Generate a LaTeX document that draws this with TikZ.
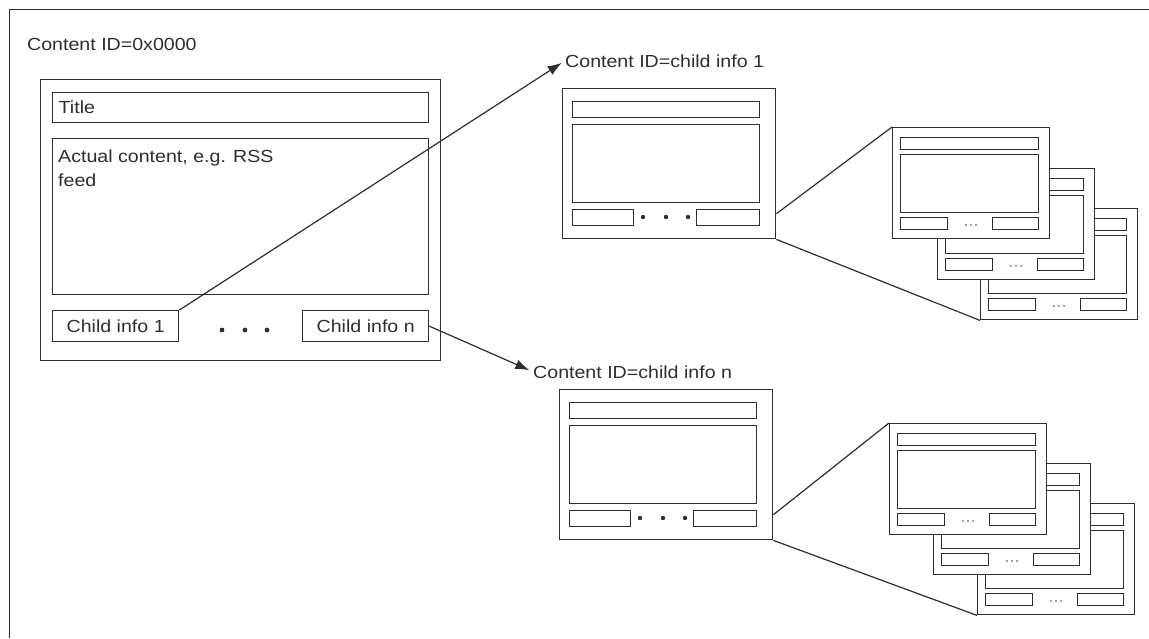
\documentclass[tikz,border=0pt]{standalone}
\usepackage{fontspec}
\setmainfont{Liberation Sans}[FakeStretch=1.12]
\usetikzlibrary{arrows.meta}
\definecolor{ink}{HTML}{2E2E2E}
\tikzset{
  box/.style={draw=ink, line width=1.4pt, anchor=north west, inner sep=0pt},
  lbl/.style={text=ink, inner sep=0pt, font=\fontsize{17.5}{24}\selectfont},
  conn/.style={draw=ink, line width=1.2pt},
  arr/.style={conn, -{Latex[length=14pt,width=10pt]}, shorten >=4pt}
}
\newcommand\childpage[3]{%
  \node[box, minimum width=213pt, minimum height=150pt] (#1) at (#2,#3) {};
  \node[box, minimum width=187pt, minimum height=16pt] (#1-t) at (#2+10,#3+13) {};
  \node[box, minimum width=187pt, minimum height=78pt] (#1-c) at (#2+10,#3+36) {};
  \node[box, minimum width=61pt, minimum height=16pt] (#1-l) at (#2+10,#3+121) {};
  \node[box, minimum width=63pt, minimum height=16pt] (#1-r) at (#2+134,#3+121) {};
  \foreach \d in {81,104,126} \fill[ink] (#2+\d,#3+129) circle[radius=2.2pt];
}
\newcommand\stackcard[3]{%
  \node[box, fill=white, minimum width=157pt, minimum height=111pt] (#1) at (#2,#3) {};
  \node[box, minimum width=138pt, minimum height=12pt] (#1-t) at (#2+8,#3+10) {};
  \node[box, minimum width=138pt, minimum height=58pt] (#1-c) at (#2+8,#3+27) {};
  \node[box, minimum width=47pt, minimum height=12pt] (#1-l) at (#2+8,#3+90) {};
  \node[box, minimum width=46pt, minimum height=12pt] (#1-r) at (#2+100,#3+90) {};
  \foreach \d in {-5,0,5} \fill[gray] (#2+79+\d,#3+98) circle[radius=1.2pt];
}
\begin{document}
\begin{tikzpicture}[x=1pt,y=-1pt]
\useasboundingbox (0,0) rectangle (1149,638);
% outer frame (cropped)
\draw[ink, line width=1.4pt] (9.5,638) -- (9.5,9.5) -- (1149,9.5);

% main page
\node[lbl, anchor=base west] (mainid) at (27,50) {Content ID=0x0000};
\node[box, minimum width=400pt, minimum height=281pt] (main) at (40,79) {};
\node[box, minimum width=376pt, minimum height=30pt, text width=364pt, inner xsep=6pt, align=left, lbl] (title) at (52,92) {Title};
\node[box, minimum width=376pt, minimum height=156pt] (content) at (52,138) {};
\node[lbl, anchor=north west, align=left] (ctext) at (58,149.3) {Actual content, e.g. RSS\\feed};
\node[box, lbl, minimum width=126pt, minimum height=31pt, anchor=north west] (ci1) at (52,310) {Child info 1};
\node[box, lbl, minimum width=126pt, minimum height=31pt, anchor=north west] (cin) at (302,310) {Child info n};
\foreach \x in {222,245,267} \fill[ink] (\x,330) circle[radius=2.4pt];

% labels of child pages
\node[lbl, anchor=base west] (t1) at (565,67) {Content ID=child info 1};
\node[lbl, anchor=base west] (tn) at (533,378) {Content ID=child info n};

\draw[arr] (ci1.north east) -- (t1.west);
\draw[arr] (cin.east) -- (tn.west);

% child page 1 and its stack
\childpage{c1}{562}{88}
\stackcard{s1c}{980}{208}
\stackcard{s1b}{937}{168}
\stackcard{s1a}{892}{127}
\draw[conn] (c1.-25.6) -- (s1a.north west);
\draw[conn] (c1.south east) -- (s1c.south west);

% child page n and its stack
\childpage{cn}{559}{389}
\stackcard{snc}{977}{503}
\stackcard{snb}{933}{463}
\stackcard{sna}{889}{423}
\draw[conn] (cn.-25.6) -- (sna.north west);
\draw[conn] (cn.south east) -- (snc.south west);
\end{tikzpicture}
\end{document}
